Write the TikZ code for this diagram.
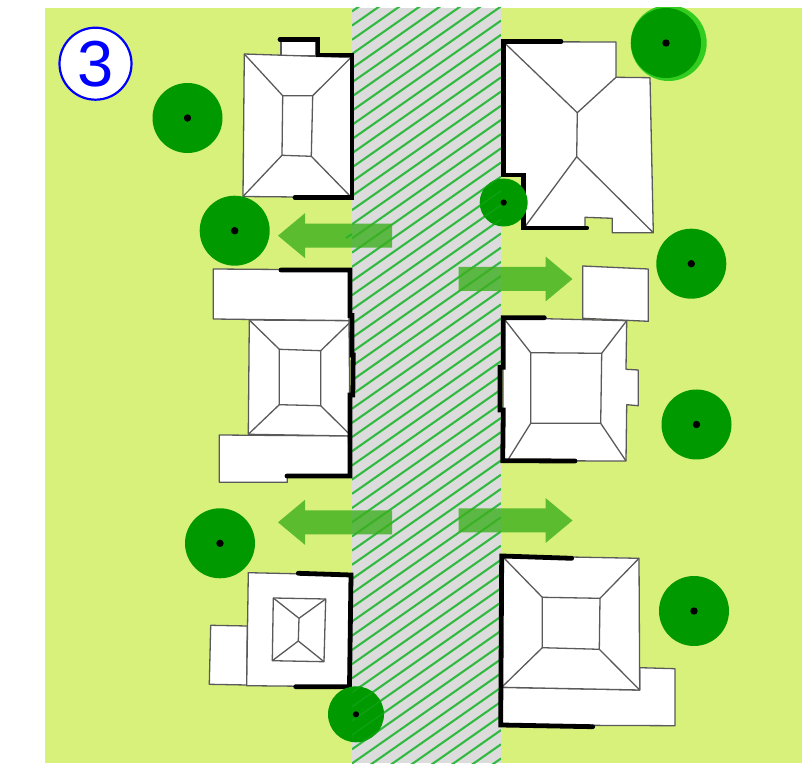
\documentclass[tikz,border=0pt]{standalone}
\usepackage{fontspec}
\usepackage{xcolor}
\setmainfont{Liberation Sans}
\usetikzlibrary{arrows.meta,positioning}

\definecolor{lawngreen}{RGB}{216,241,122}
\definecolor{roadgray}{RGB}{220,220,220}
\definecolor{hatchgreen}{RGB}{50,185,65}
\definecolor{treegreen}{RGB}{0,153,0}
\definecolor{crowngreen}{RGB}{50,205,30}
\definecolor{flowgreen}{RGB}{60,175,30}
\definecolor{roofgray}{RGB}{90,90,90}

\newcommand{\hatchlines}[1]{
  \foreach \k in {0,...,64} {
    \draw[#1] (352,-2.8+14.19*\k) -- (501,-2.8+14.19*\k-104.3);
  }
}
% length 114, shaft half 12, head half 22.5
\newcommand{\flowarrow}[3]{
  \fill[flow, shift={(#1,#2)}, xscale=#3] (0,-12) -- (87,-12) -- (87,-22.5) -- (114,0) -- (87,22.5) -- (87,12) -- (0,12) -- cycle;
}

\begin{document}
\begin{tikzpicture}[
    x=1pt, y=-1pt,
    house/.style={draw=roofgray, fill=white, line width=1.3pt, line join=round},
    ridge/.style={draw=roofgray, line width=1.3pt, line join=round},
    wall/.style={draw=black, line width=4.8pt, line join=miter, line cap=round},
    tree/.style={circle, fill=treegreen, inner sep=0pt},
    flow/.style={fill=flowgreen, opacity=0.8},
    badge/.style={circle, draw=blue, fill=white, line width=2.2pt, inner sep=0pt, minimum size=72pt, text=blue, font=\fontsize{65}{65}\selectfont}
]
\useasboundingbox (0,0) rectangle (807,767);

% ground and road
\fill[lawngreen] (45,8) rectangle (802,763);
\fill[roadgray] (352,8) rectangle (501,763);
\begin{scope}
\clip (352,8) rectangle (501,763);
\hatchlines{hatchgreen, line width=2.1pt}
\end{scope}

% top left house
\draw[house] (281,41) -- (316,41) -- (316,56) -- (281,56) -- cycle;
\draw[house] (244.3,54) -- (351,57.5) -- (351.5,197.5) -- (243,196.5) -- cycle;
\draw[ridge] (282.7,95.7) -- (312.7,95.7) -- (311.3,156.3) -- (282,155.3) -- cycle;
\draw[ridge] (244.3,54) -- (282.7,95.7);
\draw[ridge] (351,57.5) -- (312.7,95.7);
\draw[ridge] (351.5,197.5) -- (311.3,156.3);
\draw[ridge] (243,196.5) -- (282,155.3);
\draw[wall] (280,39.5) -- (318,39.5) -- (318,55) -- (352,55) -- (352,197.7) -- (295,197.7);

% top right house
\draw[house] (503.3,41.7) -- (616,42) -- (616,77.3) -- (650,77.7) -- (653.3,232.7) -- (612.3,232.7) -- (612.3,218.3) -- (585,217.3) -- (585,227.3) -- (523.3,227.3) -- (523.3,175) -- (503.3,175) -- cycle;
\draw[ridge] (503.3,41.7) -- (577.3,112.7) -- (616,77.3);
\draw[ridge] (577.3,112.7) -- (576.7,156.7);
\draw[ridge] (525,226.7) -- (576.7,156.7) -- (653.3,232.7);
\draw[wall] (561,41.7) -- (503.3,41.7) -- (503.3,175) -- (523.3,175) -- (523.3,228) -- (586.7,228);

% middle left house
\draw[house] (213.3,269) -- (350.7,270) -- (349,320.7) -- (213.3,319) -- cycle;
\draw[house] (249.3,320) -- (349,320.7) -- (350,436) -- (248.3,434.3) -- cycle;
\draw[house] (219.3,435) -- (348.3,436) -- (350,476) -- (287.3,476) -- (287.3,482.3) -- (219.3,482.3) -- cycle;
\draw[ridge] (279.3,349.3) -- (320.7,350.7) -- (320.7,405.7) -- (279.3,404.7) -- cycle;
\draw[ridge] (249.3,320) -- (279.3,349.3);
\draw[ridge] (349,323.3) -- (320.7,350.7);
\draw[ridge] (348.3,433) -- (320.7,405.7);
\draw[ridge] (248.3,434.3) -- (279.3,404.7);
\draw[wall] (281,270) -- (350,270) -- (350,315.5) -- (352,315.5) -- (352,355) -- (353.2,355) -- (352.8,395) -- (350,395) -- (350,476) -- (287,476);

% middle right house
\draw[house] (582.7,266) -- (648.3,269) -- (648.3,321.3) -- (582.7,318.3) -- cycle;
\draw[house] (503.3,317.7) -- (626.7,320.7) -- (626,369.3) -- (638.3,370) -- (638.3,405.7) -- (626.7,404.7) -- (626,461) -- (502.7,460.7) -- cycle;
\draw[ridge] (530.7,352.7) -- (601.7,353.3) -- (600.7,423.3) -- (530.7,423.3) -- cycle;
\draw[ridge] (503.3,317.7) -- (530.7,352.7);
\draw[ridge] (626.7,320.7) -- (601.7,353.3);
\draw[ridge] (626,461) -- (600.7,423.3);
\draw[ridge] (508.3,459.3) -- (530.7,423.3);
\draw[wall] (544.3,317.7) -- (503.3,317.7) -- (503.3,367.3) -- (500,367.3) -- (500,410) -- (503.3,410) -- (502.7,460.7) -- (575,461);

% bottom left house
\draw[house] (210.7,625.3) -- (247.3,626) -- (246.7,685) -- (209.3,684.3) -- cycle;
\draw[house] (248.3,572.7) -- (352.7,575) -- (348.3,686.7) -- (246.7,685.7) -- cycle;
\draw[ridge] (273.3,598) -- (325.7,599) -- (324,661.7) -- (272.3,660.7) -- cycle;
\draw[ridge] (273.3,598) -- (299,618.3) -- (325.7,599);
\draw[ridge] (299,618.3) -- (298.3,641);
\draw[ridge] (272.3,660.7) -- (298.3,641) -- (324,661.7);
\draw[wall] (298.3,573.3) -- (351,575) -- (349.5,686.7) -- (295.7,686.7);

% bottom right house
\draw[house] (639.7,667.7) -- (675,668.7) -- (675,725.7) -- (500.7,725) -- (500.7,687.3) -- (639.7,690) -- cycle;
\draw[house] (501.7,555.7) -- (639,558.3) -- (639.7,690) -- (501.7,687.3) -- cycle;
\draw[ridge] (542.3,597.3) -- (600,598.3) -- (599.3,649.3) -- (542.3,647.7) -- cycle;
\draw[ridge] (501.7,555.7) -- (542.3,597.3);
\draw[ridge] (639,558.3) -- (600,598.3);
\draw[ridge] (639.7,690) -- (599.3,649.3);
\draw[ridge] (501.7,687.3) -- (542.3,647.7);
\draw[wall] (571.7,558.3) -- (501.7,556) -- (500.7,725) -- (592.7,726.7);

% trees
\begin{scope}
\clip (45,8) rectangle (802,763);
\fill[crowngreen] (668.7,43) circle (38);
\node[tree, minimum size=70pt] (treeA) at (187.5,118) {};
\node[tree, minimum size=70pt] (treeB) at (234.7,230.7) {};
\node[tree, minimum size=48pt] (treeC) at (503.7,202.5) {};
\node[tree, minimum size=70pt] (treeD) at (666,43) {};
\node[tree, minimum size=70pt] (treeE) at (691.3,263.7) {};
\node[tree, minimum size=70pt] (treeF) at (696.5,424.5) {};
\node[tree, minimum size=70pt] (treeG) at (694,611) {};
\node[tree, minimum size=70pt] (treeH) at (220,543.3) {};
\node[tree, minimum size=56pt] (treeI) at (356,714.3) {};
\end{scope}
\begin{scope}
\clip (352,8) rectangle (501,763);
\clip (503.7,202.5) circle (24) (356,714.3) circle (28);
\hatchlines{hatchgreen!25!treegreen, line width=1.6pt}
\end{scope}
\fill (treeA) circle (3.7);
\fill (treeB) circle (3.7);
\fill (treeC) circle (3.1);
\fill (treeD) circle (3.7);
\fill (treeE) circle (3.7);
\fill (treeF) circle (3.7);
\fill (treeG) circle (3.7);
\fill (treeH) circle (3.7);
\fill (treeI) circle (3.1);

% arrows
\flowarrow{392}{235.7}{-1}
\flowarrow{458.5}{279}{1}
\flowarrow{392}{522.3}{-1}
\flowarrow{458.5}{520.5}{1}
\draw[hatchgreen!70!treegreen, line width=1.6pt] (346,238) -- (352,234);

\node[badge] (step) at (95.5,63.7) {3};
\end{tikzpicture}
\end{document}
